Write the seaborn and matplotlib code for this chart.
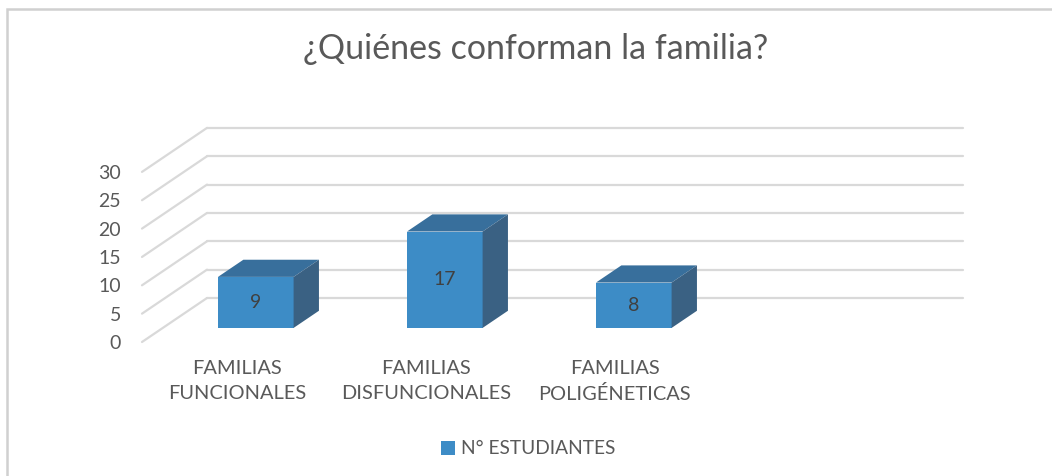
import matplotlib
matplotlib.use("Agg")
import matplotlib.pyplot as plt
from matplotlib.patches import Polygon, Rectangle
import seaborn as sns
import pandas as pd

categories = ["FAMILIAS\nFUNCIONALES", "FAMILIAS\nDISFUNCIONALES", "FAMILIAS\nPOLIGÉNETICAS"]
values = [9, 17, 8]
series_name = "N° ESTUDIANTES"
y_ticks = [0, 5, 10, 15, 20, 25, 30]
title = "¿Quiénes conforman la familia?"

sns.set_theme(style="white")
plt.rcParams["font.family"] = ["Lato", "DejaVu Sans"]

W, H = 1052, 476
fig = plt.figure(figsize=(W / 100, H / 100), dpi=100)
fig.patch.set_facecolor("white")

# pixel geometry of the oblique projection
x0_px, xs_px = 235.0, 189.0        # category 0 at depth 0, px per category
y0_px, ys_px = 342.0, 5.67         # value 0 at depth 0, px per unit
dep_x_px, dep_y_px = 65.0, 44.0    # full depth offset
ddx = dep_x_px / xs_px
ddy = dep_y_px / ys_px

left_px, bottom_px = 142.0, 342.0
ax = fig.add_axes([left_px / W, (H - bottom_px) / H, (W - left_px) / W, bottom_px / H])
xl = (left_px - x0_px) / xs_px

front = "#3D8CC6"
top_c = "#386F9C"
side_c = "#3A6183"
grid_c = "#D9D9D9"
txt_c = "#595959"

df = pd.DataFrame({"cat": categories, "val": values})
sns.barplot(data=df, x="cat", y="val", color=front, width=0.4, ax=ax,
            label=series_name, saturation=1, zorder=3, linewidth=0)
if ax.get_legend() is not None:
    ax.get_legend().remove()

ax.set_xlim(xl, (W - x0_px) / xs_px)
ax.set_ylim((y0_px - bottom_px) / ys_px, y0_px / ys_px)

# grid: back wall lines and side diagonals
xr = 3.508
for v in y_ticks:
    ax.plot([xl + ddx, xr + ddx], [v + ddy, v + ddy], color=grid_c, lw=1.6, zorder=1, clip_on=False)
    ax.plot([xl, xl + ddx], [v, v + ddy], color=grid_c, lw=1.6, zorder=1, clip_on=False)

d0, t = 0.32, 0.39
for p, v in zip(ax.patches, values):
    p.set_x(p.get_x() + d0 * ddx)
    p.set_y(d0 * ddy)
    p.set_clip_on(False)
    bx, by, w, h = p.get_x(), p.get_y(), p.get_width(), p.get_height()
    top = Polygon([(bx, by + h), (bx + w, by + h), (bx + w + t * ddx, by + h + t * ddy),
                   (bx + t * ddx, by + h + t * ddy)], closed=True, fc=top_c, ec="none",
                  zorder=3, clip_on=False)
    side = Polygon([(bx + w, by), (bx + w + t * ddx, by + t * ddy),
                    (bx + w + t * ddx, by + h + t * ddy), (bx + w, by + h)], closed=True,
                   fc=side_c, ec="none", zorder=3, clip_on=False)
    ax.add_patch(top)
    ax.add_patch(side)
    ax.text(bx + w / 2, by + h / 2, f"{v}", ha="center", va="center", fontsize=14,
            color="#404040", zorder=5)

for s in ax.spines.values():
    s.set_visible(False)
ax.set_facecolor("none")
ax.set_xlabel("")
ax.set_ylabel("")
ax.set_yticks(y_ticks)
ax.set_yticklabels([str(v) for v in y_ticks])
ax.set_xticks([i + 0.01 for i in range(len(categories))])
ax.set_xticklabels(categories, linespacing=1.55)
ax.tick_params(axis="y", length=0, pad=15, labelsize=14, labelcolor=txt_c)
ax.tick_params(axis="x", length=0, pad=13, labelsize=14.4, labelcolor=txt_c)

fig.text(536 / W, 1 - 49 / H, title, ha="center", va="center", fontsize=24.5, color=txt_c)

h_, l_ = ax.get_legend_handles_labels()
fig.legend(h_, l_, loc="center", bbox_to_anchor=(528 / W, 1 - 449 / H), frameon=False,
           fontsize=13.8, labelcolor=txt_c, handlelength=0.75, handleheight=0.75,
           handletextpad=0.3)

fig.patches.append(Rectangle((6.5, -20), 1200, 467 + 20, transform=None, fill=False,
                             ec="#D0D0D0", lw=1.8, figure=fig))

fig.savefig("out.png", dpi=100)
